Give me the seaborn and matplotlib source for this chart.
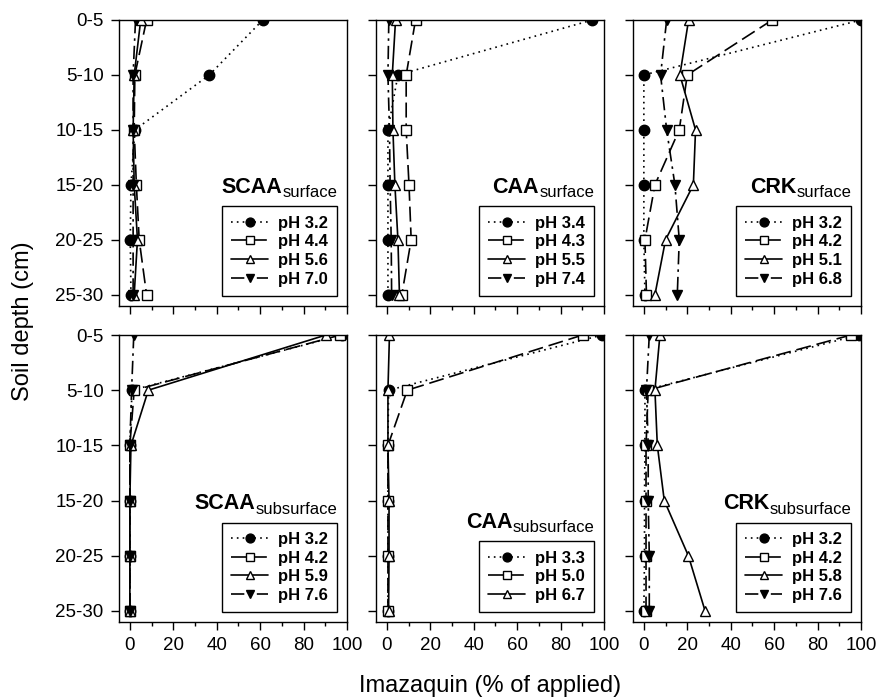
import matplotlib
matplotlib.use("Agg")
import matplotlib.pyplot as plt
import seaborn as sns
import numpy as np
import pandas as pd

depths = ["0-5", "5-10", "10-15", "15-20", "20-25", "25-30"]

# SCAA surface
scaa_surf_ph = ["pH 3.2", "pH 4.4", "pH 5.6", "pH 7.0"]
scaa_surf = [[61.2, 36.6, 2.3, 0.5, 0.2, 0.5],
             [7.7, 2.3, 2.0, 3.0, 4.3, 7.7],
             [5.0, 2.0, 1.5, 2.0, 3.5, 2.0],
             [2.6, 1.5, 1.5, 1.5, 1.5, 1.5]]

# CAA surface
caa_surf_ph = ["pH 3.4", "pH 4.3", "pH 5.5", "pH 7.4"]
caa_surf = [[94.6, 5.1, 0.5, 0.5, 0.5, 0.5],
            [13.2, 8.9, 8.9, 10.2, 11.2, 6.9],
            [4.0, 2.5, 2.8, 3.7, 5.1, 5.8],
            [0.9, 0.5, 1.2, 1.5, 2.0, 2.2]]

# CRK surface
crk_surf_ph = ["pH 3.2", "pH 4.2", "pH 5.1", "pH 6.8"]
crk_surf = [[100.0, 0.0, 0.0, 0.0, 0.0, 0.5],
            [59.1, 20.0, 16.3, 5.1, 0.5, 1.2],
            [20.6, 16.6, 23.8, 22.8, 10.0, 5.1],
            [10.5, 7.7, 10.5, 14.3, 16.3, 15.4]]

# SCAA subsurface
scaa_sub_ph = ["pH 3.2", "pH 4.2", "pH 5.9", "pH 7.6"]
scaa_sub = [[97.7, 1.0, 0.0, 0.0, 0.0, 0.0],
            [97.0, 2.0, 0.0, 0.0, 0.0, 0.0],
            [90.3, 8.5, 0.5, 0.0, 0.0, 0.0],
            [1.8, 0.8, 0.0, 0.0, 0.0, 0.0]]

# CAA subsurface
caa_sub_ph = ["pH 3.3", "pH 5.0", "pH 6.7"]
caa_sub = [[99.2, 0.8, 0.5, 0.5, 0.5, 0.5],
           [90.2, 9.4, 0.5, 0.5, 0.5, 0.5],
           [1.2, 0.5, 0.5, 1.0, 1.0, 0.8]]

# CRK subsurface
crk_sub_ph = ["pH 3.2", "pH 4.2", "pH 5.8", "pH 7.6"]
crk_sub = [[98.9, 0.5, 0.5, 0.3, 0.3, 0.0],
           [95.4, 2.0, 1.0, 1.0, 1.0, 1.0],
           [7.4, 5.1, 6.2, 9.4, 20.5, 28.2],
           [2.5, 1.2, 2.0, 2.0, 2.5, 2.5]]

panels = [
    ("SCAA", "surface", scaa_surf_ph, scaa_surf),
    ("CAA", "surface", caa_surf_ph, caa_surf),
    ("CRK", "surface", crk_surf_ph, crk_surf),
    ("SCAA", "subsurface", scaa_sub_ph, scaa_sub),
    ("CAA", "subsurface", caa_sub_ph, caa_sub),
    ("CRK", "subsurface", crk_sub_ph, crk_sub),
]

line_styles = [
    dict(linestyle=(0, (1, 2.5)), marker="o", markerfacecolor="black", markersize=7.5),
    dict(linestyle=(0, (9, 3.5)), marker="s", markerfacecolor="white", markersize=6.5),
    dict(linestyle="-", marker="^", markerfacecolor="white", markersize=7.5),
    dict(linestyle=(0, (8, 3, 1.5, 3)), marker="v", markerfacecolor="black", markersize=7.5),
]

sns.set_style("ticks")
plt.rcParams["font.family"] = ["Liberation Sans", "DejaVu Sans"]
plt.rcParams["axes.linewidth"] = 1.0
plt.rcParams["text.color"] = "black"
plt.rcParams["xtick.color"] = "black"
plt.rcParams["ytick.color"] = "black"
plt.rcParams["xtick.labelcolor"] = "black"
plt.rcParams["ytick.labelcolor"] = "black"

W, H = 879, 698
fig = plt.figure(figsize=(W / 100, H / 100), dpi=100)

col_left = [119, 376, 633]
row_top = [20, 335]
row_bot = [305.7, 622]
ax_w = 228

for i, (soil, layer, phs, vals) in enumerate(panels):
    r, c = divmod(i, 3)
    ax = fig.add_axes([col_left[c] / W, 1 - row_bot[r] / H, ax_w / W,
                       (row_bot[r] - row_top[r]) / H])
    for k, (ph, v) in enumerate(zip(phs, vals)):
        df = pd.DataFrame({"value": v, "depth": np.arange(len(depths))})
        sns.lineplot(data=df, x="value", y="depth", orient="y", estimator=None,
                     color="black", linewidth=1.2, markeredgecolor="black",
                     markeredgewidth=1.0, label=ph, ax=ax, **line_styles[k])
    ax.set_xlim(-5, 100)
    ax.set_ylim(5.2, 0)
    ax.set_xlabel("")
    ax.set_ylabel("")
    ax.set_xticks(np.arange(0, 101, 20))
    ax.set_xticks(np.arange(10, 100, 20), minor=True)
    ax.set_yticks(np.arange(len(depths)))
    ax.tick_params(axis="both", which="major", direction="out", length=6,
                   width=1, labelsize=13.5, pad=5, color="black")
    ax.tick_params(axis="x", which="minor", direction="out", length=3, width=1)
    if c == 0:
        ax.set_yticklabels(depths)
    else:
        ax.set_yticklabels([])
    if r == 0:
        ax.set_xticklabels([])
    for s in ax.spines.values():
        s.set_color("black")
        s.set_linewidth(1.0)

    leg = ax.legend(loc="lower right", bbox_to_anchor=(1, 0), borderaxespad=0.6,
                    frameon=True, fancybox=False, framealpha=1, edgecolor="black",
                    prop={"weight": "bold", "size": 12}, handlelength=2.2,
                    handletextpad=0.6, labelspacing=0.22, borderpad=0.55,
                    markerscale=0.85)
    leg.get_frame().set_linewidth(1.0)

    sub = ax.annotate(layer, xy=(1, 1), xycoords=leg, xytext=(0, 6.5),
                      textcoords="offset points", ha="right", va="baseline",
                      fontsize=12)
    ax.annotate(soil, xy=(0, 0), xycoords=sub, xytext=(0, 5.5),
                textcoords="offset points", ha="right", va="baseline",
                fontsize=15.5, fontweight="bold")

fig.text(0.026, 0.54, "Soil depth (cm)", rotation=90, ha="center", va="center",
         fontsize=17)
fig.text(490 / W, 1 - 686 / H, "Imazaquin (% of applied)", ha="center",
         va="center", fontsize=17)

fig.savefig("out.png", dpi=100)
